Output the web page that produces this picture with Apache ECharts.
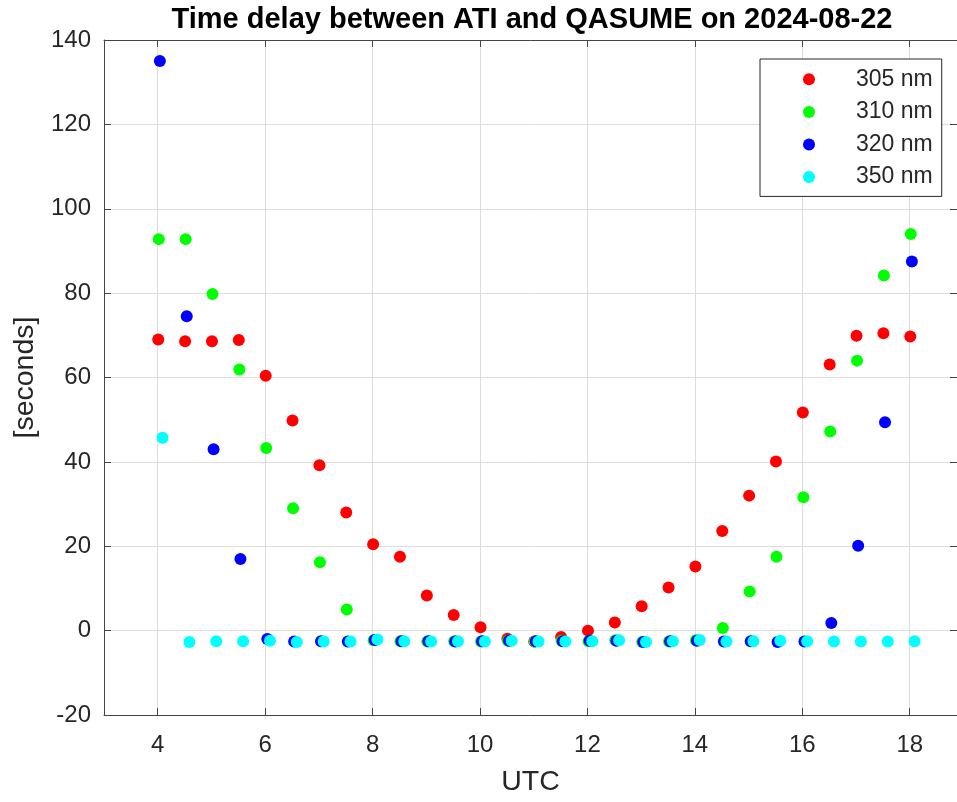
<!DOCTYPE html>
<html>
<head>
<meta charset="utf-8">
<title>Time delay between ATI and QASUME</title>
<script src="https://cdn.jsdelivr.net/npm/echarts@6/dist/echarts.min.js"></script>
<style>
  html, body { margin: 0; padding: 0; background: #fff; }
  #box { width: 957px; height: 802px; }
</style>
</head>
<body>
<div id="box"></div>
<script>
// measurement times (UTC hours) and delays (seconds) per wavelength
var t305 = [4.01, 4.51, 5.01, 5.51, 6.01, 6.51, 7.01, 7.51, 8.01, 8.51, 9.01, 9.51, 10.01, 10.51, 11.01,
            11.51, 12.01, 12.51, 13.01, 13.51, 14.01, 14.51, 15.01, 15.51, 16.01, 16.51, 17.01, 17.51, 18.01];
var d305 = [69.0, 68.6, 68.6, 68.9, 60.4, 49.8, 39.2, 28.0, 20.5, 17.5, 8.3, 3.7, 0.8, -1.9, -2.6,
            -1.5, 0.0, 1.9, 5.8, 10.2, 15.2, 23.6, 32.0, 40.1, 51.7, 63.1, 69.9, 70.5, 69.7];

var t310 = [4.02, 4.52, 5.02, 5.52, 6.02, 6.52, 7.02, 7.52, 8.02, 8.52, 9.02, 9.52, 10.02, 10.52, 11.02,
            11.52, 12.02, 12.52, 13.02, 13.52, 14.02, 14.52, 15.02, 15.52, 16.02, 16.52, 17.02, 17.52, 18.02];
var d310 = [92.8, 92.8, 79.8, 61.9, 43.3, 29.0, 16.2, 5.0, -2.3, -2.5, -2.6, -2.5, -2.6, -2.4, -2.6,
            -2.4, -2.5, -2.3, -2.7, -2.6, -2.3, 0.6, 9.3, 17.5, 31.6, 47.2, 64.0, 84.2, 94.0];

var t320 = [4.04, 4.54, 5.04, 5.54, 6.04, 6.54, 7.04, 7.54, 8.04, 8.54, 9.04, 9.54, 10.04, 10.54, 11.04,
            11.54, 12.04, 12.54, 13.04, 13.54, 14.04, 14.54, 15.04, 15.54, 16.04, 16.54, 17.04, 17.54, 18.04];
var d320 = [135.0, 74.5, 43.0, 17.0, -2.0, -2.6, -2.5, -2.6, -2.2, -2.5, -2.5, -2.6, -2.5, -2.4, -2.5,
            -2.5, -2.4, -2.4, -2.7, -2.5, -2.4, -2.6, -2.5, -2.7, -2.6, 1.8, 20.1, 49.4, 87.5];

var t350 = [4.09, 4.59, 5.09, 5.59, 6.09, 6.59, 7.09, 7.59, 8.09, 8.59, 9.09, 9.59, 10.09, 10.59, 11.09,
            11.59, 12.09, 12.59, 13.09, 13.59, 14.09, 14.59, 15.09, 15.59, 16.09, 16.59, 17.09, 17.59, 18.09];
var d350 = [45.7, -2.7, -2.5, -2.5, -2.4, -2.7, -2.6, -2.6, -2.1, -2.5, -2.6, -2.5, -2.6, -2.4, -2.6,
            -2.6, -2.5, -2.3, -2.7, -2.5, -2.2, -2.6, -2.5, -2.4, -2.5, -2.6, -2.6, -2.6, -2.5];

var names = ['305 nm', '310 nm', '320 nm', '350 nm'];
var colors = ['#ff0000', '#00ff00', '#0000ff', '#00ffff'];
var times = [t305, t310, t320, t350];
var delays = [d305, d310, d320, d350];

var font = 'Liberation Sans, Arial, Helvetica, sans-serif';
var ink = '#262626';

function pairs(xs, ys) {
    return xs.map(function(x, i) { return [x, ys[i]]; });
}

var chart = echarts.init(document.getElementById('box'), null, { renderer: 'canvas' });

var xBase = {
    type: 'value',
    min: 3,
    max: 18.88,
    splitNumber: 8,
    minInterval: 2,
    maxInterval: 2,
    axisLine: { show: true, onZero: false, lineStyle: { color: '#444', width: 1 } },
    axisTick: { show: true, inside: true, length: 7, lineStyle: { color: '#444' } }
};
var yBase = {
    type: 'value',
    min: -20,
    max: 140,
    interval: 20,
    axisLine: { show: true, onZero: false, lineStyle: { color: '#444', width: 1 } },
    axisTick: { show: true, inside: true, length: 7, lineStyle: { color: '#444' } }
};

var option = {
    animation: false,
    backgroundColor: '#fff',
    title: {
        text: 'Time delay between ATI and QASUME on 2024-08-22',
        left: 532,
        top: 5,
        textAlign: 'center',
        padding: 0,
        textStyle: { fontFamily: font, fontSize: 29, fontWeight: 'bold', color: '#000' }
    },
    legend: {
        data: names,
        orient: 'vertical',
        left: 760,
        top: 59,
        icon: 'circle',
        itemWidth: 84,
        itemHeight: 12,
        itemGap: 0,
        padding: [4, 9, 3, 43],
        backgroundColor: '#fff',
        borderColor: ink,
        borderWidth: 1,
        borderRadius: 0,
        textStyle: { fontFamily: font, fontSize: 23, color: ink, lineHeight: 32.6 }
    },
    grid: { left: 104, top: 40, right: -1, bottom: 85, containLabel: false },
    xAxis: [
        Object.assign({}, xBase, {
            position: 'bottom',
            name: 'UTC',
            nameLocation: 'middle',
            nameGap: 53,
            nameTextStyle: { fontFamily: font, fontSize: 28.5, color: ink },
            axisLabel: {
                fontFamily: font, fontSize: 24, color: ink, margin: 18,
                showMinLabel: false, showMaxLabel: false,
                formatter: function(v) { return v % 2 === 0 ? String(v) : ''; }
            },
            splitLine: { show: true, lineStyle: { color: '#dedede', width: 1 } }
        }),
        Object.assign({}, xBase, {
            position: 'top',
            axisLabel: { show: false },
            splitLine: { show: false }
        })
    ],
    yAxis: [
        Object.assign({}, yBase, {
            position: 'left',
            name: '[seconds]',
            nameLocation: 'middle',
            nameRotate: 90,
            nameGap: 62,
            nameTextStyle: { fontFamily: font, fontSize: 28.5, color: ink },
            axisLabel: { fontFamily: font, fontSize: 24, color: ink, margin: 13 },
            splitLine: { show: true, lineStyle: { color: '#dedede', width: 1 } }
        }),
        Object.assign({}, yBase, {
            position: 'right',
            axisLabel: { show: false },
            splitLine: { show: false }
        })
    ],
    series: names.map(function(name, i) {
        return {
            name: name,
            type: 'scatter',
            xAxisIndex: 0,
            yAxisIndex: 0,
            symbol: 'circle',
            symbolSize: 12,
            itemStyle: { color: colors[i], opacity: 1 },
            data: pairs(times[i], delays[i])
        };
    })
};

chart.setOption(option);
</script>
</body>
</html>
